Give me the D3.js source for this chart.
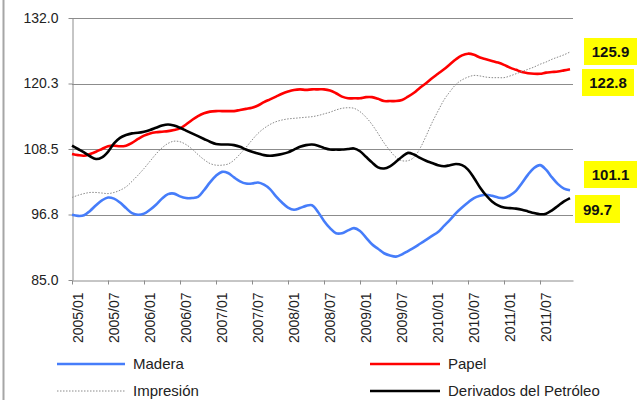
<!DOCTYPE html>
<html>
<head>
<meta charset="utf-8">
<script src="https://cdn.jsdelivr.net/npm/d3@7"></script>
<style>
  html, body { margin: 0; padding: 0; background: #fff; }
  svg { display: block; font-family: "Liberation Sans", Arial, sans-serif; }
  .grid line { stroke: #8c8c8c; stroke-width: 1; }
  .axis path, .axis line { stroke: #8c8c8c; }
  .axis text { fill: #222; font-size: 14px; }
  .legend text { font-size: 15px; fill: #222; }
  .endlabel text { font-size: 15px; font-weight: bold; fill: #111; }
</style>
</head>
<body>
<svg id="chart" width="638" height="400"></svg>
<script>
// Monthly index values, 2005/01 .. 2011/12
const years = [2005, 2006, 2007, 2008, 2009, 2010, 2011];
const months = years.flatMap((y) => d3.range(1, 13).map((m) => y + "/" + String(m).padStart(2, "0")));

const madera = [
  96.7, 96.5, 96.6, 97.4, 98.4, 99.3, 99.8, 99.6, 98.9, 97.9, 97.0, 96.7,
  96.9, 97.6, 98.5, 99.6, 100.4, 100.5, 100.0, 99.7, 99.7, 99.9, 101.1, 102.5,
  103.7, 104.4, 104.2, 103.4, 102.7, 102.3, 102.3, 102.5, 102.1, 101.3, 100.0, 98.9,
  98.0, 97.6, 97.9, 98.3, 98.4, 97.2, 95.6, 94.3, 93.4, 93.4, 93.9, 94.3,
  93.8, 92.6, 91.4, 90.6, 89.8, 89.4, 89.2, 89.6, 90.2, 90.8, 91.5, 92.2,
  92.9, 93.6, 94.7, 95.8, 97.0, 98.0, 98.9, 99.7, 100.1, 100.3, 100.1, 99.8,
  99.7, 100.2, 101.0, 102.4, 103.9, 105.1, 105.6, 104.8, 103.4, 102.2, 101.4, 101.1
];
const papel = [
  107.6, 107.4, 107.3, 107.6, 108.0, 108.5, 109.0, 109.1, 109.0, 109.1, 109.6, 110.3,
  110.9, 111.3, 111.5, 111.6, 111.7, 111.9, 112.2, 112.9, 113.7, 114.4, 114.9, 115.2,
  115.3, 115.3, 115.3, 115.3, 115.5, 115.7, 115.9, 116.3, 116.9, 117.4, 117.9, 118.4,
  118.8, 119.1, 119.2, 119.1, 119.2, 119.2, 119.2, 119.0, 118.5, 117.9, 117.6, 117.6,
  117.6, 117.8, 117.8, 117.5, 117.1, 117.1, 117.1, 117.3, 117.9, 118.6, 119.5, 120.3,
  121.2, 122.0, 122.8, 123.7, 124.6, 125.3, 125.6, 125.4, 124.9, 124.6, 124.3, 124.0,
  123.6, 123.1, 122.7, 122.3, 122.1, 122.0, 122.0, 122.2, 122.3, 122.4, 122.6, 122.8
];
const impresion = [
  99.8, 100.2, 100.5, 100.7, 100.7, 100.6, 100.5, 100.7, 101.1, 101.7, 102.7, 103.8,
  105.0, 106.3, 107.6, 108.7, 109.5, 109.9, 109.8, 109.3, 108.5, 107.5, 106.6, 105.9,
  105.6, 105.6, 105.8, 106.5, 107.6, 108.8, 110.1, 111.3, 112.2, 112.9, 113.4, 113.7,
  113.9, 114.0, 114.1, 114.2, 114.3, 114.5, 114.8, 115.1, 115.5, 115.8, 115.9, 115.8,
  115.2, 114.2, 112.9, 111.3, 109.6, 108.2, 107.0, 106.4, 106.4, 107.0, 108.6, 110.8,
  113.2, 115.3, 117.3, 118.8, 120.1, 120.9, 121.4, 121.7, 121.6, 121.4, 121.3, 121.3,
  121.3, 121.6, 122.0, 122.4, 122.8, 123.2, 123.7, 124.1, 124.6, 125.0, 125.4, 125.9
];
const derivados = [
  109.1, 108.5, 107.9, 107.2, 106.7, 107.0, 108.0, 109.5, 110.5, 111.0, 111.3, 111.4,
  111.6, 111.9, 112.3, 112.7, 112.9, 112.7, 112.3, 111.8, 111.3, 110.8, 110.3, 109.8,
  109.4, 109.3, 109.3, 109.2, 108.9, 108.4, 108.0, 107.7, 107.4, 107.3, 107.4, 107.6,
  107.9, 108.4, 108.9, 109.2, 109.3, 109.1, 108.7, 108.4, 108.4, 108.4, 108.5, 108.6,
  108.1, 107.1, 106.1, 105.2, 105.0, 105.4, 106.2, 107.1, 107.8, 107.5, 106.9, 106.4,
  106.0, 105.6, 105.4, 105.6, 105.8, 105.6, 104.8, 103.3, 101.6, 100.2, 99.1, 98.4,
  98.0, 97.9, 97.8, 97.6, 97.3, 97.0, 96.8, 96.9, 97.5, 98.3, 99.1, 99.7
];

const xTickLabels = ["2005/01", "2005/07", "2006/01", "2006/07", "2007/01", "2007/07", "2008/01",
  "2008/07", "2009/01", "2009/07", "2010/01", "2010/07", "2011/01", "2011/07"];
const yTicks = [85, 96.75, 108.5, 120.25, 132];
const yTickLabels = ["85.0", "96.8", "108.5", "120.3", "132.0"];

const series = [
  { name: "Madera",    values: madera,    color: "#467dfa", width: 2.6, dash: null },
  { name: "Papel",     values: papel,     color: "#ff0000", width: 2.6, dash: null },
  { name: "Impresión", values: impresion, color: "#8a8a8a", width: 1,   dash: "1.5,1.5" },
  { name: "Derivados del Petróleo", values: derivados, color: "#000000", width: 2.6, dash: null }
];

// end-value callouts (yellow boxes), placed by hand like the original
const callouts = [
  { series: "Impresión", x: 584, y: 38,  w: 53, h: 27 },
  { series: "Papel",     x: 582, y: 69,  w: 52, h: 27 },
  { series: "Madera",    x: 584, y: 161, w: 53, h: 27 },
  { series: "Derivados del Petróleo", x: 575, y: 195, w: 45, h: 28 }
];

const L = 72, R = 573, T = 18, B = 280;
const svg = d3.select("#chart");

// outer frame edge on the left
svg.append("line").attr("x1", 3.5).attr("x2", 3.5).attr("y1", 0).attr("y2", 400)
  .attr("stroke", "#a6a6a6").attr("stroke-width", 2);

const x = d3.scaleLinear().domain([0, months.length - 0.5]).range([L, R]);
const y = d3.scaleLinear().domain([85, 132]).range([B, T]);

// horizontal gridlines
svg.append("g").attr("class", "grid")
  .selectAll("line").data(yTicks.slice(1)).join("line")
  .attr("x1", L).attr("x2", R)
  .attr("y1", (d) => Math.round(y(d)) + 0.5).attr("y2", (d) => Math.round(y(d)) + 0.5);

// y axis
const yAxis = svg.append("g").attr("class", "axis")
  .attr("transform", `translate(${L + 0.5},0)`)
  .call(d3.axisLeft(y).tickValues(yTicks).tickSize(4).tickSizeOuter(0)
    .tickFormat((d, i) => yTickLabels[i]));
yAxis.selectAll("text").attr("x", -14);

// x axis
const xTickIdx = xTickLabels.map((lbl) => months.indexOf(lbl));
const xAxis = svg.append("g").attr("class", "axis")
  .attr("transform", `translate(0,${B + 0.5})`)
  .call(d3.axisBottom(x).tickValues(xTickIdx).tickSize(4).tickSizeOuter(0)
    .tickFormat((d, i) => xTickLabels[i]));
xAxis.selectAll(".tick text")
  .attr("transform", "translate(10,12) rotate(-90)")
  .attr("text-anchor", "end")
  .attr("x", 0).attr("y", 0).attr("dy", 0);

// series lines
const line = d3.line()
  .x((d, i) => x(i))
  .y((d) => y(d))
  .curve(d3.curveCatmullRom.alpha(0.5));

svg.append("g").selectAll("path").data(series).join("path")
  .attr("d", (s) => line(s.values))
  .attr("fill", "none")
  .attr("stroke", (s) => s.color)
  .attr("stroke-width", (s) => s.width)
  .attr("stroke-dasharray", (s) => s.dash)
  .attr("stroke-linejoin", "round");

// callouts
const cg = svg.append("g").attr("class", "endlabel");
callouts.forEach((c) => {
  const s = series.find((d) => d.name === c.series);
  const last = s.values[s.values.length - 1];
  cg.append("rect").attr("x", c.x).attr("y", c.y).attr("width", c.w).attr("height", c.h)
    .attr("fill", "#ffff00");
  cg.append("text").attr("x", c.x + c.w / 2).attr("y", c.y + c.h / 2)
    .attr("text-anchor", "middle").attr("dominant-baseline", "central")
    .text(last.toFixed(1));
});

// legend
const legendPos = [
  { x1: 57, x2: 125, y: 364 },
  { x1: 370, x2: 440, y: 364 },
  { x1: 57, x2: 125, y: 391 },
  { x1: 370, x2: 440, y: 391 }
];
const lg = svg.append("g").attr("class", "legend");
series.forEach((s, i) => {
  const p = legendPos[i];
  lg.append("line").attr("x1", p.x1).attr("x2", p.x2).attr("y1", p.y).attr("y2", p.y)
    .attr("stroke", s.color).attr("stroke-width", s.width).attr("stroke-dasharray", s.dash);
  lg.append("text").attr("x", p.x2 + 8).attr("y", p.y).attr("dy", "0.35em").text(s.name);
});
</script>
</body>
</html>
